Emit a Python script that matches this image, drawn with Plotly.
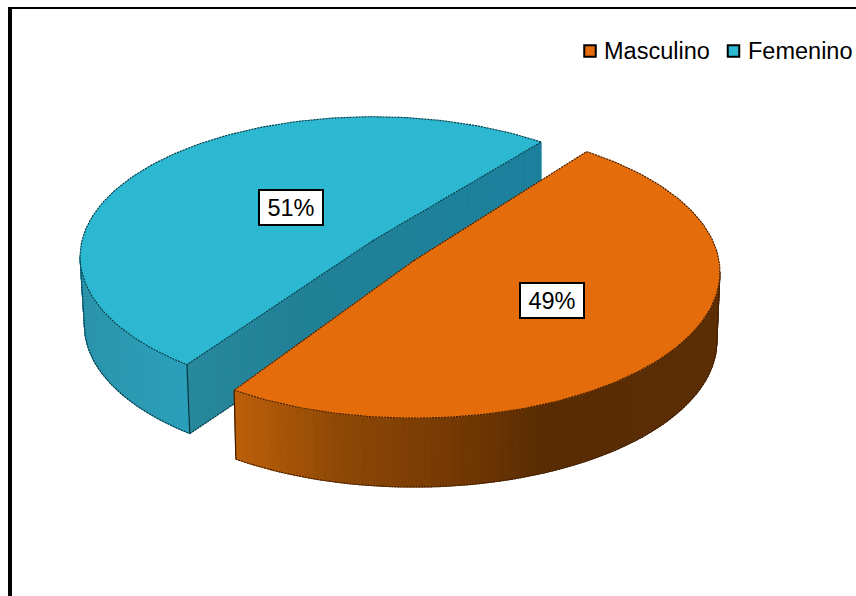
import numpy as np
import plotly.graph_objects as go

# Chart data
categories = ["Masculino", "Femenino"]
shares = [49, 51]
share_labels = ["49%", "51%"]

W, H = 856, 596
TOP_COLORS = {"Masculino": "#E46C0A", "Femenino": "#2CB8D0"}
EDGE_COLORS = {"Masculino": "#3A1C00", "Femenino": "#06333F"}
DEPTH = 69

# Per-slice projection of the tilted disc: centre, radii, perspective and start angle
VIEW = {
    "Masculino": dict(cx=414, cy=260.5, f=305, g=145, k=0.08, start=53, direction=-1, base=0.99),
    "Femenino": dict(cx=373, cy=240.5, f=291, g=138, k=0.115, start=51, direction=1, base=0.985),
}


def project(view, deg, drop=0.0, scale=1.0):
    t = np.radians(deg)
    d = 1 + view["k"] * np.sin(t)
    x = view["cx"] + scale * view["f"] * np.cos(t) / d
    y = view["cy"] - view["g"] * np.sin(t) / d + drop
    return x, y


def sweep_of(name):
    return shares[categories.index(name)] / sum(shares) * 360


def arc_angles(name, n=160):
    v = VIEW[name]
    return np.linspace(v["start"], v["start"] + v["direction"] * sweep_of(name), n)


def silhouette_angle(name):
    # Angle at which the projected rim reaches its widest point on the outer side
    k = VIEW[name]["k"]
    a = np.degrees(np.arcsin(k))
    return 180 + a if VIEW[name]["direction"] > 0 else -a


def ramp(x, stops):
    xs = [s[0] for s in stops]
    return "rgb(%d,%d,%d)" % tuple(np.interp(x, xs, [s[1][i] for s in stops]) for i in range(3))


fig = go.Figure()


def polygon(xs, ys, color, seam=1.0):
    fig.add_trace(go.Scatter(x=list(xs), y=list(ys), mode="lines", fill="toself", fillcolor=color,
                             line=dict(width=seam, color=color), hoverinfo="skip", showlegend=False))


def outline(xs, ys, color, dash="2px,1px", width=1.1):
    fig.add_trace(go.Scatter(x=list(xs), y=list(ys), mode="lines",
                             line=dict(width=width, color=color, dash=dash),
                             hoverinfo="skip", showlegend=False))


def draw_slice(name, wall_stops, cut_stops=None):
    v = VIEW[name]
    ang = arc_angles(name)
    tx, ty = project(v, ang)
    edge = EDGE_COLORS[name]

    # cut faces along the straight edges of the slice
    if cut_stops is not None:
        near_x, near_y = project(v, ang[-1])
        far_x, far_y = project(v, ang[0])
        near_bx, _ = project(v, ang[-1], DEPTH, v["base"])
        cx, cy = v["cx"], v["cy"]
        path_x = np.concatenate([np.linspace(near_x, cx, 25), np.linspace(cx, far_x, 25)])
        path_y = np.concatenate([np.linspace(near_y, cy, 25), np.linspace(cy, far_y, 25)])
        low_x = path_x + np.interp(path_x, [near_x, far_x], [near_bx - near_x, 0])
        for i in range(len(path_x) - 1):
            polygon([path_x[i], path_x[i + 1], low_x[i + 1], low_x[i], path_x[i]],
                    [path_y[i], path_y[i + 1], path_y[i + 1] + DEPTH, path_y[i] + DEPTH, path_y[i]],
                    ramp(path_x[i], cut_stops))
        outline(low_x, path_y + DEPTH, edge)

    # outer wall, shaded in narrow bands
    end = v["start"] + v["direction"] * sweep_of(name)
    band = np.linspace(silhouette_angle(name), end, 70)
    bx, by = project(v, band)
    lx, ly = project(v, band, DEPTH, v["base"])
    for i in range(len(band) - 1):
        polygon([bx[i], bx[i + 1], lx[i + 1], lx[i], bx[i]],
                [by[i], by[i + 1], ly[i + 1], ly[i], by[i]],
                ramp((bx[i] + bx[i + 1]) / 2, wall_stops))
    outline(lx, ly, edge)
    outline([bx[0], lx[0]], [by[0], ly[0]], edge)

    # vertical edge at the near corner
    outline([bx[-1], lx[-1]], [by[-1], ly[-1]], edge, dash="solid", width=1.2)

    # top face
    polygon(np.concatenate([[v["cx"]], tx, [v["cx"]]]),
            np.concatenate([[v["cy"]], ty, [v["cy"]]]), TOP_COLORS[name], seam=0.5)
    outline(np.concatenate([[v["cx"]], tx, [v["cx"]]]),
            np.concatenate([[v["cy"]], ty, [v["cy"]]]), edge)


draw_slice("Femenino",
           [(80, (42, 148, 172)), (186, (42, 160, 186))],
           [(186, (40, 136, 156)), (300, (33, 128, 150)), (541, (28, 128, 158))])
draw_slice("Masculino",
           [(232, (190, 96, 10)), (340, (142, 72, 6)), (450, (118, 58, 4)),
            (545, (90, 44, 3)), (725, (92, 46, 6))])

# Legend swatches and labels
legend_y = 51
for name, sx, tx_left in zip(categories, [590, 733.5], [601.5, 745.5]):
    fig.add_trace(go.Scatter(x=[sx], y=[legend_y], mode="markers", hoverinfo="skip", showlegend=False,
                             marker=dict(symbol="square", size=11.5, color=TOP_COLORS[name],
                                         line=dict(width=2, color="black"))))
    fig.add_annotation(x=tx_left, y=legend_y, text=name, showarrow=False, xanchor="left", yanchor="middle",
                       font=dict(family="Liberation Sans", size=23.5, color="black"))

# Value labels in boxes
for text, bx, by in zip(share_labels, [552, 291], [300.5, 207]):
    fig.add_annotation(x=bx, y=by, text=text, showarrow=False, width=62, height=33, borderpad=0,
                       bgcolor="white", bordercolor="black", borderwidth=2, align="center", valign="middle",
                       font=dict(family="Liberation Sans", size=23.5, color="black"))

# Chart frame, running off the right and bottom of the page
fig.add_shape(type="line", x0=10, x1=10, y0=7, y1=H + 5, layer="above", line=dict(color="black", width=4))
fig.add_shape(type="line", x0=8, x1=W + 5, y0=8, y1=8, layer="above", line=dict(color="black", width=2))

fig.update_layout(
    width=W, height=H, margin=dict(l=0, r=0, t=0, b=0),
    paper_bgcolor="white", plot_bgcolor="white", showlegend=False,
    xaxis=dict(range=[0, W], visible=False, fixedrange=True),
    yaxis=dict(range=[H, 0], visible=False, fixedrange=True),
)

fig.write_html("out.html", config={"displayModeBar": False})
